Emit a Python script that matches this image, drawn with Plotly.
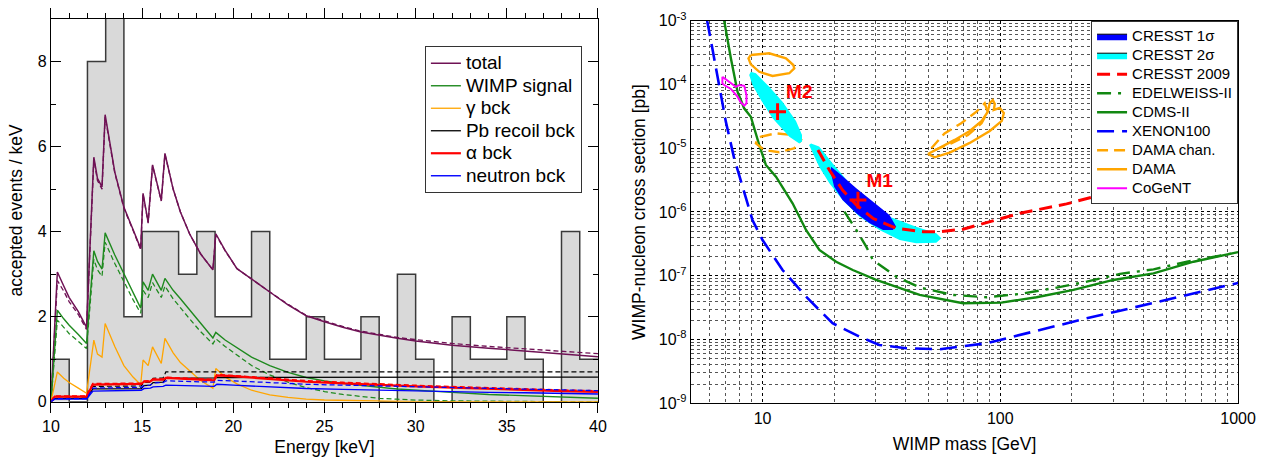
import math
import plotly.graph_objects as go

FONT = "Liberation Sans, Arial, Helvetica, sans-serif"

# ---------------- left panel: accepted-event spectrum ----------------
bin_edges = list(range(10, 41))
bin_counts = [1, 0, 8, 10, 2, 4, 4, 3, 4, 2, 2, 4, 1, 1, 2,
              1, 1, 2, 0, 3, 1, 0, 2, 1, 1, 2, 1, 0, 4, 1]

energy_sig = [10.0, 10.35, 10.7, 11.0, 11.5, 11.95, 12.35, 12.55, 12.8, 12.97,
              13.5, 14.0, 14.5, 14.92, 15.05, 15.33, 15.57, 16.05, 16.25, 16.7,
              17.1, 17.6, 18.2, 18.88, 19.04, 19.55, 20.2, 21, 22, 23,
              24, 25, 26, 27, 28, 29, 30, 32, 34, 36, 38, 40]
total_m1 = [0, 3.05, 2.72, 2.45, 2.12, 1.75, 5.75, 5.25, 5.05, 6.75,
            5.4, 4.57, 4.05, 3.6, 4.9, 4.22, 5.57, 4.73, 5.84, 5.0,
            4.46, 3.95, 3.48, 3.1, 3.95, 3.56, 3.13, 2.88, 2.58, 2.28,
            2.02, 1.88, 1.75, 1.64, 1.56, 1.49, 1.43, 1.33, 1.26, 1.19, 1.12, 1.06]
total_m2 = [0, 2.85, 2.6, 2.35, 2.05, 1.7, 5.7, 5.2, 5.0, 6.7,
            5.38, 4.55, 4.03, 3.58, 4.88, 4.2, 5.55, 4.72, 5.82, 5.0,
            4.46, 3.95, 3.48, 3.1, 3.93, 3.55, 3.13, 2.88, 2.58, 2.29,
            2.03, 1.9, 1.77, 1.66, 1.58, 1.51, 1.46, 1.37, 1.3, 1.24, 1.18, 1.13]
wimp_m1 = [0, 2.15, 1.95, 1.8, 1.58, 1.37, 3.55, 3.3, 3.12, 3.97,
           3.45, 3.0, 2.55, 2.2, 2.82, 2.62, 3.0, 2.62, 2.9, 2.62,
           2.42, 2.15, 1.85, 1.5, 1.63, 1.45, 1.27, 1.05, 0.85, 0.69,
           0.57, 0.49, 0.43, 0.38, 0.34, 0.3, 0.27, 0.22, 0.17, 0.14, 0.11, 0.08]
wimp_m2 = [0, 1.92, 1.75, 1.6, 1.42, 1.25, 3.35, 3.1, 2.95, 3.75,
           3.25, 2.82, 2.4, 2.08, 2.62, 2.45, 2.8, 2.45, 2.72, 2.42,
           2.2, 1.95, 1.65, 1.36, 1.48, 1.3, 1.1, 0.85, 0.63, 0.46,
           0.33, 0.24, 0.17, 0.12, 0.08, 0.06, 0.04, 0.02, 0.01, 0.0, 0.0, 0.0]
gamma_bck = [0, 0.7, 0.55, 0.45, 0.32, 0.2, 1.45, 1.12, 1.05, 1.84,
             1.3, 0.85, 0.58, 0.4, 0.98, 0.85, 1.29, 0.9, 1.49, 1.15,
             0.92, 0.72, 0.5, 0.32, 0.78, 0.58, 0.42, 0.27, 0.16, 0.1,
             0.06, 0.04, 0.03, 0.02, 0.01, 0, 0, 0, 0, 0, 0, 0]

energy_bg = [10.0, 10.2, 11.95, 12.3, 14.95, 15.1, 15.45, 15.6, 16.15, 16.3,
             18.95, 19.1, 20, 22, 24, 26, 28, 30, 32, 34, 36, 38, 40]
pb_m1 = [0, 0.08, 0.08, 0.3, 0.31, 0.38, 0.39, 0.45, 0.46, 0.55,
         0.56, 0.57, 0.57, 0.57, 0.58, 0.58, 0.58, 0.58, 0.58, 0.58, 0.58, 0.58, 0.58]
pb_m2 = [0, 0.08, 0.09, 0.36, 0.37, 0.45, 0.46, 0.55, 0.56, 0.7,
         0.7, 0.7, 0.7, 0.7, 0.7, 0.7, 0.7, 0.7, 0.7, 0.7, 0.7, 0.7, 0.7]
alpha_m1 = [0, 0.12, 0.12, 0.4, 0.42, 0.47, 0.48, 0.52, 0.52, 0.56,
            0.5, 0.62, 0.6, 0.54, 0.47, 0.43, 0.39, 0.36, 0.33, 0.3, 0.28, 0.25, 0.23]
alpha_m2 = [0, 0.13, 0.13, 0.42, 0.43, 0.48, 0.49, 0.53, 0.53, 0.57,
            0.52, 0.63, 0.61, 0.55, 0.49, 0.45, 0.41, 0.38, 0.35, 0.32, 0.3, 0.27, 0.25]
neutron_m1 = [0, 0.06, 0.06, 0.25, 0.27, 0.31, 0.32, 0.35, 0.36, 0.39,
              0.36, 0.41, 0.39, 0.35, 0.31, 0.29, 0.27, 0.26, 0.24, 0.22, 0.21, 0.19, 0.18]
neutron_m2 = [0, 0.07, 0.07, 0.32, 0.34, 0.38, 0.39, 0.44, 0.45, 0.49,
              0.46, 0.5, 0.49, 0.45, 0.41, 0.39, 0.37, 0.35, 0.33, 0.31, 0.29, 0.27, 0.26]

# ---------------- right panel: exclusion limits and regions ----------------
xenon_mass = [5.84, 5.86, 6.15, 6.57, 7.01, 7.60, 9.07, 10.0, 12.14, 15.24, 19.7, 25.6,
              31.0, 40.2, 55.6, 87.5, 120.8, 167, 231, 319, 441, 610, 1000]
xenon_xsec = [1.05e-3, 9.65e-4, 3.69e-4, 9.8e-5, 2.61e-5, 6.95e-6, 7.5e-7, 3.64e-7, 1.23e-7,
              4.7e-8, 1.8e-8, 1.11e-8, 8.22e-9, 7.3e-9, 7.04e-9, 8.73e-9, 1.18e-8, 1.63e-8,
              2.15e-8, 2.83e-8, 3.78e-8, 5.0e-8, 7.7e-8]

cdms_mass = [6.85, 6.90, 7.36, 7.85, 8.37, 8.93, 9.69, 10.33, 11.39, 13.38, 15.24, 17.34,
             20.4, 23.96, 30.06, 36.5, 45.8, 69.7, 101, 142, 203, 299, 441, 650, 1000]
cdms_xsec = [1.1e-3, 1.0e-3, 2.57e-4, 7.71e-5, 4.23e-5, 3.12e-5, 1.12e-5, 5.47e-6, 3.58e-6,
             1.37e-6, 5.22e-7, 2.54e-7, 1.66e-7, 1.23e-7, 8.59e-8, 6.75e-8, 5.0e-8, 3.7e-8,
             3.79e-8, 4.6e-8, 5.99e-8, 8.59e-8, 1.09e-7, 1.66e-7, 2.35e-7]

edelweiss_mass = [22.1, 24.8, 27.3, 29.1, 36.5, 45.8, 63.2, 87.5, 120.8, 167, 231, 319, 441, 610, 1000]
edelweiss_xsec = [1.01e-6, 5.22e-7, 2.86e-7, 1.77e-7, 9.68e-8, 6.55e-8, 5.0e-8, 4.6e-8,
                  5.18e-8, 6.37e-8, 8.07e-8, 1.07e-7, 1.26e-7, 1.66e-7, 2.33e-7]

cresst09_mass = [17.1, 19.1, 21.7, 24.8, 29.1, 36.5, 47.3, 55.6, 69.7, 120.8, 190, 298, 470, 1000]
cresst09_xsec = [9.38e-6, 4.55e-6, 2.21e-6, 1.29e-6, 7.97e-7, 5.55e-7, 4.91e-7, 4.91e-7,
                 5.36e-7, 9.55e-7, 1.34e-6, 2.08e-6, 2.88e-6, 4.9e-6]

# DAMA contours: low-mass (Na) island, gap, high-mass (I) island
dama_mass = [8.93, 10.67, 12.55, 13.47, 13.60, 12.96, 11.02, 9.69, 8.93, 8.73, 8.93, None,
             49.6, 55.6, 64.3, 74.4, 83.6, 88.5, 90.3, 93.0, 94.8, 93.9, 99.5, 103.5, 101.5,
             90.3, 74.4, 61.2, 53.0, 49.6]
dama_xsec = [2.90e-4, 3.08e-4, 2.57e-4, 2.02e-4, 1.79e-4, 1.50e-4, 1.36e-4, 1.58e-4, 2.07e-4,
             2.57e-4, 2.90e-4, None,
             8.13e-6, 1.01e-5, 1.35e-5, 1.86e-5, 2.68e-5, 3.70e-5, 5.12e-5, 5.70e-5, 4.94e-5,
             3.98e-5, 4.28e-5, 3.57e-5, 2.68e-5, 1.86e-5, 1.21e-5, 8.51e-6, 7.21e-6, 8.13e-6]

dama_chan_mass = [9.85, 11.39, 13.38, 14.52, 13.60, 11.76, 10.17, 9.38, 9.53, 9.85, None,
                  51.3, 58.3, 68.5, 79.4, 86.0, 88.5, 83.4, 73.1, 62.2, 53.0, 51.3]
dama_chan_xsec = [1.52e-5, 1.71e-5, 1.61e-5, 1.35e-5, 9.97e-6, 8.64e-6, 9.38e-6, 1.19e-5,
                  1.43e-5, 1.52e-5, None,
                  9.97e-6, 1.71e-5, 2.46e-5, 3.74e-5, 5.07e-5, 3.70e-5, 2.46e-5, 1.61e-5,
                  1.19e-5, 9.38e-6, 9.97e-6]

cogent_mass = [6.78, 7.43, 7.72, 7.98, 8.38, 8.56, 8.56, 8.38, 8.10, 7.85, 7.36, 6.90, 6.78, 6.78]
cogent_xsec = [1.32e-4, 1.04e-4, 9.2e-5, 9.8e-5, 9.5e-5, 6.8e-5, 5.07e-5, 4.65e-5, 5.25e-5,
               6.43e-5, 8.5e-5, 9.8e-5, 1.04e-4, 1.32e-4]

# CRESST 2 sigma: M2 island, gap, M1 island
cresst_2s_mass = [8.93, 9.38, 10.67, 12.14, 13.83, 14.66, 14.66, 14.28, 12.96, 11.02, 9.85, 9.07, 8.79,
                  None,
                  16.0, 17.3, 19.7, 23.2, 27.3, 34.2, 44.3, 53.8, 56.5, 53.8, 44.3, 37.7, 31.0,
                  25.6, 21.7, 19.1, 17.3, 16.3, 15.7]
cresst_2s_xsec = [1.58e-4, 1.50e-4, 9.23e-5, 5.37e-5, 2.68e-5, 1.61e-5, 1.27e-5, 1.19e-5, 1.52e-5,
                  2.95e-5, 5.70e-5, 9.8e-5, 1.41e-4,
                  None,
                  1.19e-5, 1.06e-5, 5.8e-6, 2.82e-6, 1.54e-6, 8.44e-7, 5.88e-7, 4.63e-7, 3.87e-7,
                  3.30e-7, 3.23e-7, 3.64e-7, 5.22e-7, 8.44e-7, 1.54e-6, 2.82e-6, 5.13e-6, 8.34e-6,
                  1.12e-5]
cresst_1s_mass = [19.4, 21.0, 24.8, 29.1, 34.2, 36.5, 35.3, 32.1, 28.2, 24.8, 21.7, 20.0, 19.4]
cresst_1s_xsec = [5.13e-6, 4.05e-6, 2.36e-6, 1.45e-6, 8.98e-7, 5.88e-7, 5.22e-7, 5.22e-7,
                  6.65e-7, 9.55e-7, 1.54e-6, 2.49e-6, 4.05e-6]

best_fit_mass = [25.2, 11.57]
best_fit_xsec = [1.54e-6, 3.74e-5]
best_fit_label = ["M1", "M2"]


def big(text, px):
    """Legend label rendered larger than the legend row pitch."""
    return f'<span style="font-size:{px}px">{text}</span>'


fig = go.Figure()

# histogram of observed events drawn as a filled step outline
fig.add_trace(go.Scatter(
    x=bin_edges, y=bin_counts + bin_counts[-1:], mode="lines", line_shape="hv",
    fill="tozeroy", fillcolor="#d9d9d9", line=dict(color="#3a3a3a", width=1.5),
    showlegend=False, hoverinfo="skip", xaxis="x", yaxis="y"))

left_series = [
    ("total", "#6f1255", 1.5, energy_sig, total_m1, total_m2),
    ("WIMP signal", "#1f8a1f", 1.4, energy_sig, wimp_m1, wimp_m2),
    ("γ bck", "#ffa500", 1.3, energy_sig, gamma_bck, None),
    ("Pb recoil bck", "#000000", 1.3, energy_bg, pb_m1, pb_m2),
    ("α bck", "#ff0000", 2.2, energy_bg, alpha_m1, alpha_m2),
    ("neutron bck", "#0000ff", 1.4, energy_bg, neutron_m1, neutron_m2),
]
for name, color, width, ex, y_solid, y_dash in left_series:
    if y_dash is not None:
        fig.add_trace(go.Scatter(
            x=ex, y=y_dash, mode="lines", line=dict(color=color, width=width * 0.9, dash="5px,3px"),
            showlegend=False, xaxis="x", yaxis="y"))
    fig.add_trace(go.Scatter(
        x=ex, y=y_solid, mode="lines", name=big(name, 19), line=dict(color=color, width=width),
        legend="legend", xaxis="x", yaxis="y"))


def add_r(**kw):
    kw.setdefault("xaxis", "x2")
    kw.setdefault("yaxis", "y2")
    kw.setdefault("legend", "legend2")
    if "name" in kw:
        kw["name"] = big(kw["name"], 15)
    fig.add_trace(go.Scatter(**kw))


add_r(x=xenon_mass, y=xenon_xsec, mode="lines", name="XENON100", legendrank=6,
      line=dict(color="#0000ff", width=2.6, dash="17px,8px"))
add_r(x=cdms_mass, y=cdms_xsec, mode="lines", name="CDMS-II", legendrank=5,
      line=dict(color="#118811", width=2.4))
add_r(x=edelweiss_mass, y=edelweiss_xsec, mode="lines", name="EDELWEISS-II", legendrank=4,
      line=dict(color="#118811", width=2.4, dash="14px,7px,3px,7px"))
add_r(x=dama_chan_mass, y=dama_chan_xsec, mode="lines", name="DAMA chan.", legendrank=7,
      line=dict(color="#ffa500", width=2.4, dash="11px,6px"))
add_r(x=dama_mass, y=dama_xsec, mode="lines", name="DAMA", legendrank=8,
      line=dict(color="#ffa500", width=2.4))
add_r(x=cogent_mass, y=cogent_xsec, mode="lines", name="CoGeNT", legendrank=9,
      line=dict(color="#ff00ff", width=2))
add_r(x=cresst_2s_mass, y=cresst_2s_xsec, mode="lines", fill="toself", fillcolor="#00ffff",
      line=dict(width=0, color="#00ffff"), showlegend=False, hoverinfo="skip")
add_r(x=cresst_1s_mass, y=cresst_1s_xsec, mode="lines", fill="toself", fillcolor="#0000ff",
      line=dict(width=0, color="#0000ff"), showlegend=False, hoverinfo="skip")
add_r(x=cresst09_mass, y=cresst09_xsec, mode="lines", name="CRESST 2009", legendrank=3,
      line=dict(color="#ff0000", width=3, dash="13px,7px"))
# legend keys for the filled CRESST regions
add_r(x=[None], y=[None], mode="lines", fill="toself", fillcolor="#0000ff",
      line=dict(color="black", width=1), name="CRESST 1σ", legendrank=1)
add_r(x=[None], y=[None], mode="lines", fill="toself", fillcolor="#00ffff",
      line=dict(color="black", width=1), name="CRESST 2σ", legendrank=2)
add_r(x=best_fit_mass, y=best_fit_xsec, mode="markers+text", text=best_fit_label,
      textposition="top right", showlegend=False,
      textfont=dict(family=FONT, size=19, color="#ff0000", weight="bold"),
      marker=dict(symbol="cross-thin", size=12, color="#ff0000",
                  line=dict(color="#ff0000", width=3)))

axis_common = dict(showline=True, linecolor="black", linewidth=1.4, mirror="allticks",
                   zeroline=False, tickfont=dict(family=FONT, size=16, color="black"))
title_font = dict(family=FONT, size=17.5, color="black")

decade_vals = [1e-9, 1e-8, 1e-7, 1e-6, 1e-5, 1e-4, 1e-3]
decade_text = ["10<sup>-9</sup>", "10<sup>-8</sup>", "10<sup>-7</sup>", "10<sup>-6</sup>",
               "10<sup>-5</sup>", "10<sup>-4</sup>", "10<sup>-3</sup>"]

fig.update_layout(
    width=1265, height=460, template="none",
    margin=dict(l=0, r=0, t=0, b=0),
    paper_bgcolor="white", plot_bgcolor="white",
    font=dict(family=FONT, size=16, color="black"),
    xaxis=dict(domain=[0.0403, 0.4727], anchor="y", range=[10, 40], tick0=10, dtick=5,
               ticks="outside", ticklen=10, tickwidth=1.2, tickcolor="black", showgrid=False,
               minor=dict(dtick=1, ticks="outside", ticklen=5, tickwidth=1, tickcolor="black"),
               title=dict(text="Energy [keV]", standoff=6, font=title_font), **axis_common),
    yaxis=dict(domain=[0.1267, 0.9587], anchor="x", range=[0, 9], tick0=0, dtick=2,
               ticks="inside", ticklen=10, tickwidth=1.2, tickcolor="black", showgrid=False,
               minor=dict(dtick=1, ticks="inside", ticklen=5, tickwidth=1, tickcolor="black"),
               title=dict(text="accepted events / keV", standoff=10, font=title_font),
               **axis_common),
    xaxis2=dict(domain=[0.5462, 0.9787], anchor="y2", type="log",
                range=[math.log10(5), 3], tickvals=[10, 100, 1000], ticktext=["10", "100", "1000"],
                ticks="", showgrid=True, gridcolor="black", gridwidth=1, griddash="dot",
                minor=dict(dtick="D1", showgrid=True, gridcolor="#555555", gridwidth=1,
                           griddash="dot", ticks=""),
                title=dict(text="WIMP mass [GeV]", standoff=12, font=title_font), **axis_common),
    yaxis2=dict(domain=[0.1233, 0.955], anchor="x2", type="log", range=[-9, -3],
                tickvals=decade_vals, ticktext=decade_text,
                ticks="", showgrid=True, gridcolor="black", gridwidth=1, griddash="dot",
                minor=dict(dtick="D1", showgrid=True, gridcolor="#555555", gridwidth=1,
                           griddash="dot", ticks=""),
                title=dict(text="WIMP-nucleon cross section [pb]", standoff=8, font=title_font),
                **axis_common),
    legend=dict(x=0.46, y=0.9, xanchor="right", yanchor="top", bgcolor="white",
                bordercolor="#333333", borderwidth=1, font=dict(family=FONT, size=15),
                tracegroupgap=0, itemwidth=30),
    legend2=dict(x=0.9787, y=0.955, xanchor="right", yanchor="top", bgcolor="white",
                 bordercolor="#333333", borderwidth=1, font=dict(family=FONT, size=12),
                 tracegroupgap=0, itemwidth=30),
)

fig.write_html("out.html", include_plotlyjs=True, config={"displayModeBar": False})
